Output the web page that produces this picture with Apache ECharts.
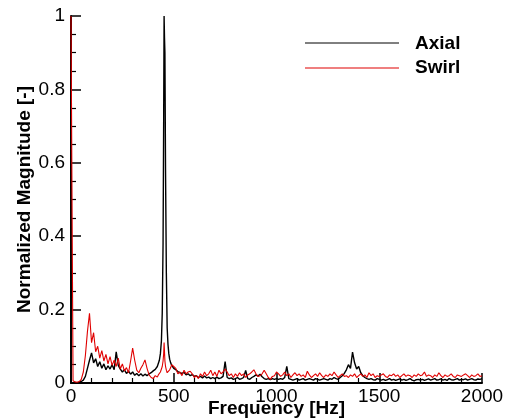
<!DOCTYPE html>
<html>
<head>
<meta charset="utf-8">
<script src="https://cdn.jsdelivr.net/npm/echarts@6/dist/echarts.min.js"></script>
<style>html,body{margin:0;padding:0;background:#fff;}#c{width:508px;height:420px;}</style>
</head>
<body>
<div id="c"></div>
<script>
var seriesNames = ['Axial', 'Swirl'];
var xTicks = [0, 500, 1000, 1500, 2000];
var yTicks = [0, 0.2, 0.4, 0.6, 0.8, 1];

var freqLow = [0, 6, 10, 20, 30, 40, 50, 60, 70, 80, 90, 100, 110, 120, 130, 140, 150, 160, 170, 180, 190, 200,
  210, 220, 230, 240, 250, 260, 270, 280, 290, 300, 310, 320, 330, 340, 350, 360, 370, 380, 390, 400];
var freqPeak = [410, 420, 425, 430, 435, 440, 444, 448, 451, 453, 455, 457, 460, 464, 468, 472, 476, 480, 485, 490];
var freqHigh = [500, 510, 520, 530, 540, 550, 560, 570, 580, 590, 600, 610, 620, 630, 640, 650, 660, 670, 680, 690,
  700, 710, 720, 730, 740, 750, 760, 770, 780, 790, 800, 810, 820, 830, 840, 850, 860, 870, 880, 890,
  900, 910, 920, 930, 940, 950, 960, 970, 980, 990, 1000, 1010, 1020, 1030, 1040, 1050, 1060, 1070, 1080, 1090,
  1100, 1110, 1120, 1130, 1140, 1150, 1160, 1170, 1180, 1190, 1200, 1210, 1220, 1230, 1240, 1250, 1260, 1270, 1280, 1290,
  1300, 1310, 1320, 1330, 1340, 1350, 1360, 1370, 1380, 1390, 1400, 1410, 1420, 1430, 1440, 1450, 1460, 1470, 1480, 1490,
  1500, 1510, 1520, 1530, 1540, 1550, 1560, 1570, 1580, 1590, 1600, 1610, 1620, 1630, 1640, 1650, 1660, 1670, 1680, 1690,
  1700, 1710, 1720, 1730, 1740, 1750, 1760, 1770, 1780, 1790, 1800, 1810, 1820, 1830, 1840, 1850, 1860, 1870, 1880, 1890,
  1900, 1910, 1920, 1930, 1940, 1950, 1960, 1970, 1980, 1990, 2000];

var axialLow = [0, 0, 0, 0, 0.001, 0.002, 0.004, 0.008, 0.018, 0.04, 0.062, 0.082, 0.055, 0.066, 0.045, 0.058, 0.04, 0.052, 0.036, 0.047, 0.038, 0.05,
  0.036, 0.085, 0.048, 0.038, 0.03, 0.036, 0.026, 0.032, 0.024, 0.03, 0.021, 0.026, 0.02, 0.025, 0.019, 0.024, 0.02, 0.025, 0.028, 0.033];
var axialPeak = [0.037, 0.045, 0.05, 0.062, 0.08, 0.115, 0.19, 0.38, 0.72, 1.0, 0.94, 0.9, 0.58, 0.3, 0.15, 0.105, 0.08, 0.065, 0.055, 0.048];
var axialHigh = [0.04, 0.036, 0.031, 0.028, 0.026, 0.029, 0.022, 0.025, 0.02, 0.023, 0.018, 0.02, 0.015, 0.018, 0.014, 0.019, 0.014, 0.016, 0.012, 0.015,
  0.012, 0.016, 0.012, 0.014, 0.018, 0.058, 0.015, 0.012, 0.014, 0.01, 0.012, 0.015, 0.01, 0.012, 0.015, 0.034, 0.012, 0.01, 0.015, 0.018,
  0.022, 0.019, 0.024, 0.017, 0.012, 0.01, 0.012, 0.009, 0.012, 0.01, 0.012, 0.01, 0.012, 0.01, 0.015, 0.045, 0.012, 0.01, 0.008, 0.01,
  0.012, 0.008, 0.01, 0.012, 0.008, 0.01, 0.012, 0.01, 0.008, 0.012, 0.01, 0.008, 0.01, 0.012, 0.01, 0.008, 0.012, 0.01, 0.015, 0.012,
  0.01, 0.015, 0.02, 0.026, 0.036, 0.05, 0.04, 0.084, 0.055, 0.038, 0.045, 0.028, 0.02, 0.015, 0.012, 0.01, 0.012, 0.009, 0.008, 0.012,
  0.01, 0.008, 0.01, 0.007, 0.009, 0.012, 0.008, 0.01, 0.007, 0.009, 0.011, 0.008, 0.01, 0.007, 0.009, 0.012, 0.008, 0.006, 0.009, 0.01,
  0.008, 0.01, 0.007, 0.009, 0.011, 0.008, 0.01, 0.012, 0.008, 0.009, 0.011, 0.008, 0.01, 0.007, 0.012, 0.009, 0.008, 0.01, 0.012, 0.008,
  0.01, 0.009, 0.011, 0.008, 0.01, 0.012, 0.009, 0.008, 0.011, 0.01, 0.012];

var swirlLow = [1.0, 1.0, 0.006, 0.003, 0.002, 0.004, 0.01, 0.03, 0.075, 0.14, 0.19, 0.11, 0.137, 0.085, 0.1, 0.068, 0.088, 0.06, 0.078, 0.052, 0.072, 0.048,
  0.062, 0.045, 0.068, 0.038, 0.052, 0.033, 0.042, 0.028, 0.06, 0.095, 0.062, 0.035, 0.028, 0.04, 0.05, 0.063, 0.04, 0.022, 0.015, 0.012];
var swirlPeak = [0.02, 0.016, 0.022, 0.026, 0.03, 0.038, 0.045, 0.06, 0.08, 0.11, 0.085, 0.06, 0.045, 0.035, 0.028, 0.024, 0.03, 0.036, 0.042, 0.05];
var swirlHigh = [0.045, 0.04, 0.025, 0.03, 0.02, 0.035, 0.025, 0.03, 0.032, 0.025, 0.015, 0.02, 0.012, 0.025, 0.018, 0.03, 0.02, 0.025, 0.035, 0.02,
  0.03, 0.018, 0.035, 0.025, 0.03, 0.038, 0.03, 0.02, 0.025, 0.015, 0.025, 0.018, 0.028, 0.02, 0.025, 0.015, 0.022, 0.025, 0.03, 0.036,
  0.025, 0.018, 0.02, 0.025, 0.035, 0.025, 0.015, 0.01, 0.018, 0.02, 0.03, 0.025, 0.018, 0.022, 0.03, 0.02, 0.025, 0.015, 0.022, 0.028,
  0.02, 0.025, 0.018, 0.022, 0.015, 0.032, 0.022, 0.015, 0.02, 0.025, 0.018, 0.028, 0.02, 0.015, 0.022, 0.018, 0.025, 0.02, 0.03, 0.022,
  0.015, 0.02, 0.025, 0.018, 0.02, 0.015, 0.022, 0.018, 0.025, 0.015, 0.02, 0.025, 0.018, 0.022, 0.015, 0.028, 0.02, 0.025, 0.015, 0.02,
  0.018, 0.022, 0.025, 0.018, 0.015, 0.022, 0.02, 0.025, 0.018, 0.022, 0.015, 0.02, 0.025, 0.018, 0.022, 0.02, 0.015, 0.022, 0.018, 0.025,
  0.02, 0.022, 0.03, 0.018, 0.022, 0.02, 0.015, 0.022, 0.018, 0.028, 0.02, 0.015, 0.022, 0.018, 0.02, 0.025, 0.018, 0.015, 0.022, 0.02,
  0.018, 0.022, 0.025, 0.02, 0.015, 0.022, 0.018, 0.02, 0.025, 0.018, 0.02];

function pairs(f, v) { var out = []; for (var i = 0; i < f.length; i++) out.push([f[i], v[i]]); return out; }
var freq = freqLow.concat(freqPeak, freqHigh);
var axialData = pairs(freq, axialLow.concat(axialPeak, axialHigh));
var swirlData = pairs(freq, swirlLow.concat(swirlPeak, swirlHigh));

var FONT = 'Liberation Sans, Arial, Helvetica, sans-serif';
var RED = 'rgb(224,0,0)';
var chart = echarts.init(document.getElementById('c'), null, {renderer: 'canvas'});
chart.setOption({
  animation: false,
  backgroundColor: '#fff',
  grid: {left: 71, top: 16, width: 411, height: 367, containLabel: false, outerBoundsMode: 'none'},
  xAxis: {
    type: 'value', min: xTicks[0], max: xTicks[xTicks.length - 1], interval: 500,
    name: 'Frequency [Hz]', nameLocation: 'middle', nameGap: 16, nameMoveOverlap: false,
    nameTextStyle: {color: '#000', fontSize: 19, fontWeight: 'bold', fontFamily: FONT},
    axisLine: {lineStyle: {color: '#000', width: 2}},
    axisTick: {inside: true, length: 10, lineStyle: {color: '#000', width: 1.5}},
    minorTick: {show: true, splitNumber: 5, length: 5, lineStyle: {color: '#000', width: 1.2}},
    axisLabel: {color: '#000', fontSize: 19, fontFamily: FONT, margin: 4, formatter: function (v) { return String(v); }},
    splitLine: {show: false}
  },
  yAxis: {
    type: 'value', min: yTicks[0], max: yTicks[yTicks.length - 1], interval: 0.2,
    name: 'Normalized Magnitude [-]', nameLocation: 'middle', nameGap: 37, nameMoveOverlap: false,
    nameTextStyle: {color: '#000', fontSize: 19, fontWeight: 'bold', fontFamily: FONT},
    axisLine: {show: true, lineStyle: {color: '#000', width: 2}},
    axisTick: {show: true, inside: true, length: 10, lineStyle: {color: '#000', width: 1.5}},
    minorTick: {show: true, splitNumber: 4, length: 5, lineStyle: {color: '#000', width: 1.2}},
    axisLabel: {color: '#000', fontSize: 19, fontFamily: FONT, margin: 6, formatter: function (v) { return String(Math.round(v * 10) / 10); }},
    splitLine: {show: false}
  },
  series: [
    {name: seriesNames[0], type: 'line', data: axialData, symbol: 'none', clip: true,
     lineStyle: {color: '#000', width: 1.4}, itemStyle: {color: '#000'}},
    {name: seriesNames[1], type: 'line', data: swirlData, symbol: 'none', clip: true,
     lineStyle: {color: RED, width: 1.1}, itemStyle: {color: RED}}
  ],
  graphic: [
    {type: 'line', shape: {x1: 305, y1: 43, x2: 399, y2: 43}, style: {stroke: '#000', lineWidth: 1}},
    {type: 'line', shape: {x1: 305, y1: 68, x2: 399, y2: 68}, style: {stroke: RED, lineWidth: 1.2}},
    {type: 'text', x: 415, y: 43.5, style: {text: seriesNames[0], fill: '#000', font: 'bold 19px ' + FONT, verticalAlign: 'middle'}},
    {type: 'text', x: 415, y: 67.5, style: {text: seriesNames[1], fill: '#000', font: 'bold 19px ' + FONT, verticalAlign: 'middle'}}
  ]
});
</script>
</body>
</html>
